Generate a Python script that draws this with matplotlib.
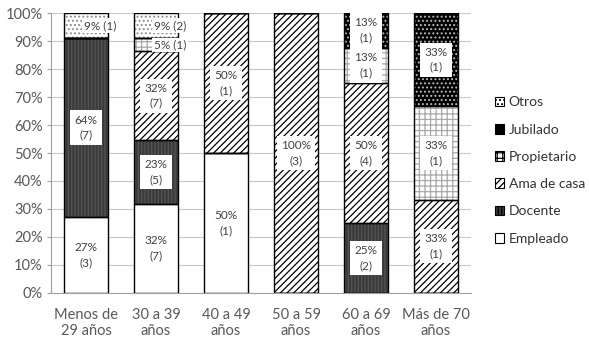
import matplotlib.pyplot as plt
from matplotlib.patches import Patch
import numpy as np

categories = ["Menos de\n29 años", "30 a 39\naños", "40 a 49\naños",
              "50 a 59\naños", "60 a 69\naños", "Más de 70\naños"]
series = ["Empleado", "Docente", "Ama de casa", "Propietario", "Jubilado", "Otros"]
empleado = [3, 7, 1, 0, 0, 0]
docente = [7, 5, 0, 0, 2, 0]
ama_de_casa = [0, 7, 1, 3, 4, 1]
propietario = [0, 1, 0, 0, 1, 1]
jubilado = [0, 0, 0, 0, 1, 1]
otros = [1, 2, 0, 0, 0, 0]

# face, hatch colour, hatch
styles = {
    "Empleado": ("white", "black", ""),
    "Docente": ("#3a3a3a", "#555555", "|||||"),
    "Ama de casa": ("white", "black", "/////"),
    "Propietario": ("white", "#a8a8a8", "+++"),
    "Jubilado": ("black", "#bbbbbb", "...."),
    "Otros": ("white", "#8c8c8c", "...."),
}

plt.rcParams["font.family"] = ["Lato", "DejaVu Sans"]
plt.rcParams["hatch.linewidth"] = 0.9

counts = np.array([empleado, docente, ama_de_casa, propietario, jubilado, otros], dtype=float)
totals = counts.sum(axis=0)
pct = counts / totals * 100

fig = plt.figure(figsize=(5.89, 3.46), dpi=100)
ax = fig.add_axes([0.0866, 0.1532, 0.7131, 0.8092])

x = np.arange(len(categories))
width = 0.64
bottom = np.zeros(len(categories))
for i, name in enumerate(series):
    face, hcol, hatch = styles[name]
    ax.bar(x, pct[i], width, bottom=bottom, color=face, edgecolor=hcol,
           hatch=hatch, linewidth=0, zorder=2)
    ax.bar(x, pct[i], width, bottom=bottom, fill=False, edgecolor="black",
           linewidth=1.0, zorder=3)
    for j in range(len(categories)):
        if counts[i, j] == 0:
            continue
        p = int(pct[i, j] + 0.5)
        n = int(counts[i, j])
        y = bottom[j] + pct[i, j] / 2
        if pct[i, j] < 10:
            ax.text(x[j] + 0.2, y, f"{p}% ({n})", ha="center", va="center",
                    fontsize=8.5, color="#404040", zorder=4,
                    bbox=dict(boxstyle="square,pad=0.15", fc="white", ec="none"))
        else:
            ax.text(x[j], y, f"{p}%\n({n})", ha="center", va="center",
                    fontsize=8.5, color="#404040", zorder=4, linespacing=1.45,
                    bbox=dict(boxstyle="square,pad=0.35", fc="white", ec="none"))
    bottom += pct[i]

ax.set_xlim(-0.5, len(categories) - 0.5)
ax.set_ylim(0, 100)
ax.set_yticks(np.arange(0, 101, 10))
ax.set_yticklabels([f"{v}%" for v in range(0, 101, 10)])
ax.set_xticks(x)
ax.set_xticklabels(categories)
ax.tick_params(axis="both", labelsize=10.5, colors="#595959")
ax.tick_params(axis="x", length=0, pad=11)
ax.tick_params(axis="y", length=3, color="#a0a0a0", pad=3)
ax.grid(axis="y", color="#c8c8c8", linewidth=0.8, zorder=0)
ax.set_axisbelow(True)
for s in ["top", "right"]:
    ax.spines[s].set_visible(False)
for s in ["left", "bottom"]:
    ax.spines[s].set_color("#a0a0a0")
    ax.spines[s].set_linewidth(0.8)

handles = []
for name in reversed(series):
    face, hcol, hatch = styles[name]
    handles.append(Patch(facecolor=face, edgecolor="black", hatch=hatch, linewidth=0.8))
fig.legend(handles, list(reversed(series)), loc="center left",
           bbox_to_anchor=(0.828, 0.507), frameon=False, fontsize=10,
           handlelength=0.7, handleheight=0.7, handletextpad=0.3,
           labelspacing=1.1, borderpad=0, labelcolor="#333333")

fig.savefig("out.png", dpi=100)
